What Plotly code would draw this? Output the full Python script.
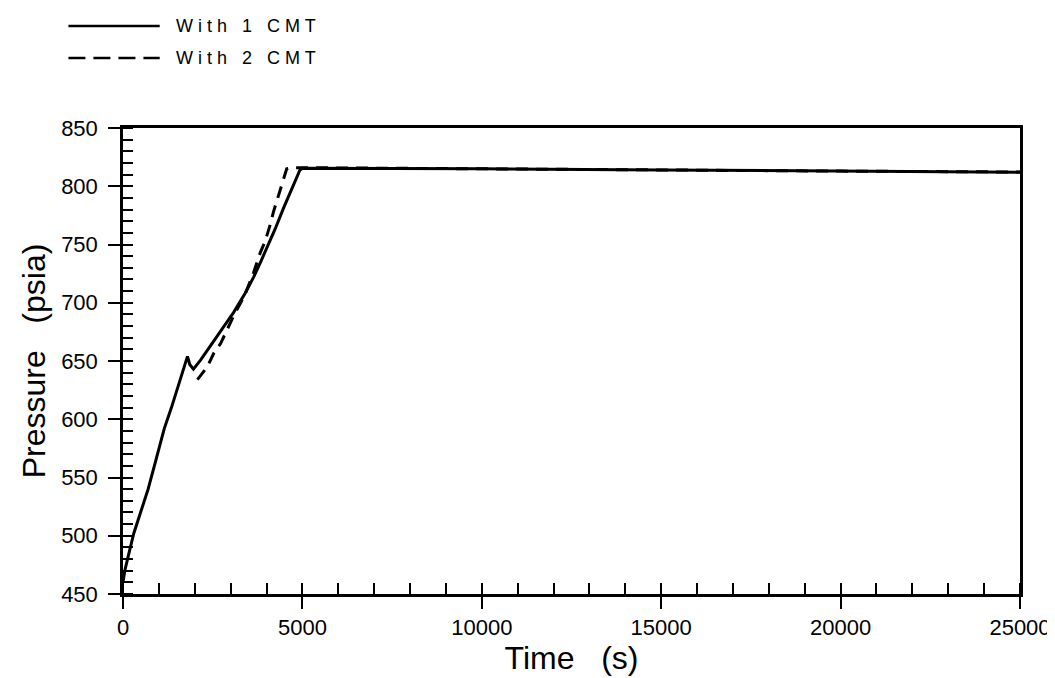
import plotly.graph_objects as go

# ---- data ----
t_1cmt = [0, 50, 150, 300, 500, 700, 900, 1150, 1350, 1550, 1797, 1860, 1963, 2166,
          2500, 2800, 3088, 3400, 3641, 3850, 4010, 4250, 4471, 4700, 4932, 5000,
          6000, 10000, 15000, 20000, 25000]
p_1cmt = [460, 470, 483, 502, 521, 540, 563, 592, 610, 629, 654, 647, 643, 651,
          666, 679, 692, 708, 722, 736, 747, 764, 781, 798, 814, 815.5,
          815.5, 815, 814, 813, 812]

t_2cmt = [2074, 2350, 2535, 2720, 2904, 3088, 3400, 3641, 3826, 3964, 4102, 4194,
          4333, 4471, 4563, 4700, 6000, 10000, 15000, 20000, 25000]
p_2cmt = [634, 645, 657, 665, 677, 689, 707, 726, 743, 753, 767, 778,
          792, 805, 815, 816, 815.8, 815, 814, 813, 812.2]

series_names = ["W i t h   1   C M T", "W i t h   2   C M T"]
x_ticks = [0, 5000, 10000, 15000, 20000, 25000]
y_ticks = [450, 500, 550, 600, 650, 700, 750, 800, 850]

FONT = "Liberation Sans, Arial, sans-serif"

fig = go.Figure()
fig.add_trace(go.Scatter(x=t_1cmt, y=p_1cmt, mode="lines", name=series_names[0],
                         line=dict(color="black", width=3), showlegend=False))
fig.add_trace(go.Scatter(x=t_2cmt, y=p_2cmt, mode="lines", name=series_names[1],
                         line=dict(color="black", width=3, dash="12px,8px"), showlegend=False))

W, H = 1055, 678
ml, mr, mt, mb = 115, 36, 120, 92
pw, ph = W - ml - mr, H - mt - mb

def px_to_paper_x(px):
    return (px - ml) / pw

def px_to_paper_y(py):
    return (H - mb - py) / ph

# manual legend (line samples + labels)
legend_rows = [(18, "solid"), (50, "17px,8px")]
for (py, dash), name in zip(legend_rows, series_names):
    fig.add_shape(type="line", xref="paper", yref="paper",
                  x0=px_to_paper_x(60), x1=px_to_paper_x(152),
                  y0=px_to_paper_y(py), y1=px_to_paper_y(py),
                  line=dict(color="black", width=2.5, dash=dash))
    fig.add_annotation(xref="paper", yref="paper", x=px_to_paper_x(166), y=px_to_paper_y(py),
                       text=name, showarrow=False, xanchor="left", yanchor="middle",
                       font=dict(family=FONT, size=18, color="black"))

axis_common = dict(showgrid=False, zeroline=False, showline=True, linecolor="black",
                   linewidth=2.5, mirror=True, tickcolor="black", tickwidth=2,
                   tickfont=dict(family=FONT, size=22, color="black"))

fig.update_xaxes(range=[0, 25000], tickvals=x_ticks, ticktext=[str(v) for v in x_ticks],
                 ticks="outside", ticklen=12,
                 minor=dict(ticks="inside", dtick=1000, ticklen=11, tickcolor="black", tickwidth=2),
                 title=dict(text="Time\u00a0\u00a0\u00a0(s)", font=dict(family=FONT, size=32, color="black"),
                            standoff=2),
                 **axis_common)
fig.update_yaxes(range=[450, 850], tickvals=y_ticks, ticktext=[str(v) for v in y_ticks],
                 ticks="outside", ticklen=12, ticklabelstandoff=6,
                 minor=dict(ticks="inside", dtick=10, ticklen=10, tickcolor="black", tickwidth=2),
                 title=dict(text="Pressure\u00a0\u00a0\u00a0(psia)", font=dict(family=FONT, size=32, color="black"),
                            standoff=6),
                 **axis_common)

fig.update_layout(width=W, height=H, margin=dict(l=ml, r=mr, t=mt, b=mb),
                  plot_bgcolor="white", paper_bgcolor="white", showlegend=False)

fig.write_html("out.html")
